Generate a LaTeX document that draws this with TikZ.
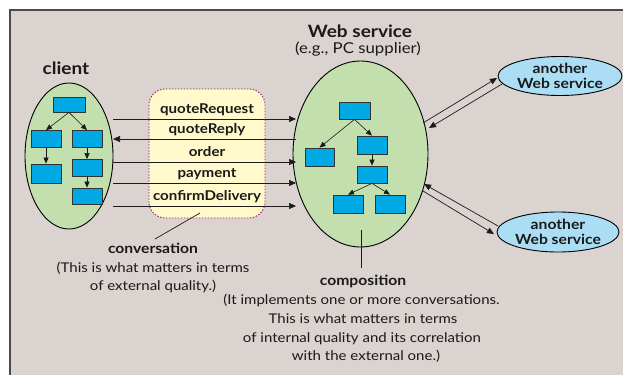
\documentclass[tikz,border=0pt]{standalone}
\usepackage{fontspec}
\setmainfont{Lato}[FakeStretch=1.12]
\usetikzlibrary{shapes.geometric,arrows.meta}

\definecolor{bgcol}{HTML}{DAD3CF}
\definecolor{framecol}{HTML}{4A4A4A}
\definecolor{greenfill}{HTML}{C3DFAE}
\definecolor{taskfill}{HTML}{00A8E4}
\definecolor{convfill}{HTML}{FFF9CC}
\definecolor{convline}{HTML}{9B2060}
\definecolor{otherfill}{HTML}{ABDDF4}
\definecolor{ink}{HTML}{1A1A1A}

\tikzset{
  party/.style={ellipse, draw=black, line width=0.9pt, fill=greenfill, inner sep=0pt},
  other/.style={ellipse, draw=black, line width=0.9pt, fill=otherfill, inner sep=0pt,
                align=center, text=ink, font=\bfseries\fontsize{14}{15}\selectfont},
  task/.style={rectangle, draw=black!80, line width=0.8pt, fill=taskfill,
               minimum width=30pt, minimum height=17pt, inner sep=0pt},
  flow/.style={draw=ink, line width=0.6pt, -{Triangle[length=6pt,width=5pt]}},
  msg/.style={draw=ink, line width=0.7pt, -{Triangle[length=7pt,width=6pt]}},
  lead/.style={draw=ink, line width=0.7pt},
  msglabel/.style={anchor=base, inner sep=0pt, font=\bfseries\fontsize{13.5}{15}\selectfont, text=ink},
  title/.style={anchor=base, inner sep=0pt, font=\bfseries\fontsize{17}{20}\selectfont, text=ink},
  subtitle/.style={anchor=base, inner sep=0pt, font=\fontsize{15}{17}\selectfont, text=ink},
  note/.style={anchor=base, inner sep=0pt, font=\fontsize{13.4}{15}\selectfont, text=ink},
  notehead/.style={anchor=base, inner sep=0pt, font=\bfseries\fontsize{14}{15}\selectfont, text=ink}
}

\begin{document}
\begin{tikzpicture}[x=1pt, y=-1pt]
\useasboundingbox (0,0) rectangle (623,375);

% panel
\fill[bgcol] (10,10) rectangle (623,375);
\draw[framecol, line width=2pt] (10,375) -- (10,10) -- (623,10);

% conversation area
\draw[convline, fill=convfill, line width=0.9pt, dash pattern=on 1.5pt off 1.5pt, rounded corners=16pt]
  (149,89) rectangle (265,218);

% the two parties
\node[party, minimum width=88pt, minimum height=146pt] (client) at (69,156) {};
\node[party, minimum width=135pt, minimum height=186pt] (ws) at (360.5,154) {};

\node[title] (clientlbl) at (66,74) {client};
\node[title] (wslbl) at (360,37) {Web service};
\node[subtitle] (wssub) at (358,53) {(e.g., PC supplier)};

% client process
\node[task, minimum width=32pt, minimum height=15pt] (c1) at (69,104.5) {};
\node[task] (c2) at (46,139) {};
\node[task] (c3) at (87,139) {};
\node[task, minimum height=19pt] (c4) at (46,173.5) {};
\node[task] (c5) at (87,168) {};
\node[task, minimum height=16pt] (c6) at (87,196) {};
\draw[flow] (c1.south) -- (c2.north);
\draw[flow] (c1.south) -- (c3.north);
\draw[flow] (c2.south) -- (c4.north);
\draw[flow] (c3.south) -- (c5.north);
\draw[flow] (c5.south) -- (c6.north);

% service composition
\node[task, minimum width=31pt] (w1) at (354.5,110.5) {};
\node[task, minimum width=29pt, minimum height=18pt] (w2) at (319.5,157) {};
\node[task, minimum height=18pt] (w3) at (372,145) {};
\node[task] (w4) at (372,174.5) {};
\node[task, minimum height=18pt] (w5) at (348,204) {};
\node[task, minimum height=18pt] (w6) at (390,204) {};
\draw[flow] (w1.south) -- (w2.north);
\draw[flow] (w1.south) -- (w3.north);
\draw[flow] (w3.south) -- (w4.north);
\draw[flow] (w4.south) -- (w5.north);
\draw[flow] (w4.south) -- (w6.north);

% messages
\coordinate (mL) at (113,0);
\coordinate (mR) at (296,0);
\node[msglabel] (m1) at (207,113) {quoteRequest};
\node[msglabel] (m2) at (207,133) {quoteReply};
\node[msglabel] (m3) at (207,156) {order};
\node[msglabel] (m4) at (207,177) {payment};
\node[msglabel] (m5) at (207,200) {confirmDelivery};
\draw[msg] (mL |- 0,119) -- (mR |- 0,119);
\draw[msg] (mR |- 0,139) -- (mL |- 0,139);
\draw[msg] (mL |- 0,162) -- (mR |- 0,162);
\draw[msg] (mL |- 0,183) -- (mR |- 0,183);
\draw[msg] (mL |- 0,206) -- (mR |- 0,206);

% other services
\node[other, minimum width=124pt, minimum height=39pt] (o1) at (560,76) {another\\Web service};
\node[other, minimum width=122pt, minimum height=40pt] (o2) at (558,232) {another\\Web service};

\coordinate (a1) at (423,123);
\coordinate (a2) at (497,78);
\coordinate (a3) at (502,84);
\coordinate (a4) at (429,128);
\coordinate (b1) at (498,226);
\coordinate (b2) at (424,184);
\coordinate (b3) at (423,191);
\coordinate (b4) at (494,234);
\draw[msg] (a1) -- (a2);
\draw[msg] (a3) -- (a4);
\draw[msg] (b1) -- (b2);
\draw[msg] (b3) -- (b4);

% conversation note
\coordinate (cv1) at (200,213);
\coordinate (cv2) at (155,239);
\draw[lead] (cv1) -- (cv2);
\node[notehead] (cvh) at (153,253) {conversation};
\node[note] (cvn1) at (153,272) {(This is what matters in terms};
\node[note] (cvn2) at (153,290) {of external quality.)};

% composition note
\coordinate (cp1) at (361,230);
\coordinate (cp2) at (361,268);
\draw[lead] (cp1) -- (cp2);
\node[notehead] (cph) at (363,285) {composition};
\node[note] (cpn1) at (361.5,304) {(It implements one or more conversations.};
\node[note] (cpn2) at (363,323) {This is what matters in terms};
\node[note] (cpn3) at (362,342) {of internal quality and its correlation};
\node[note] (cpn4) at (366,360) {with the external one.)};
\end{tikzpicture}
\end{document}
